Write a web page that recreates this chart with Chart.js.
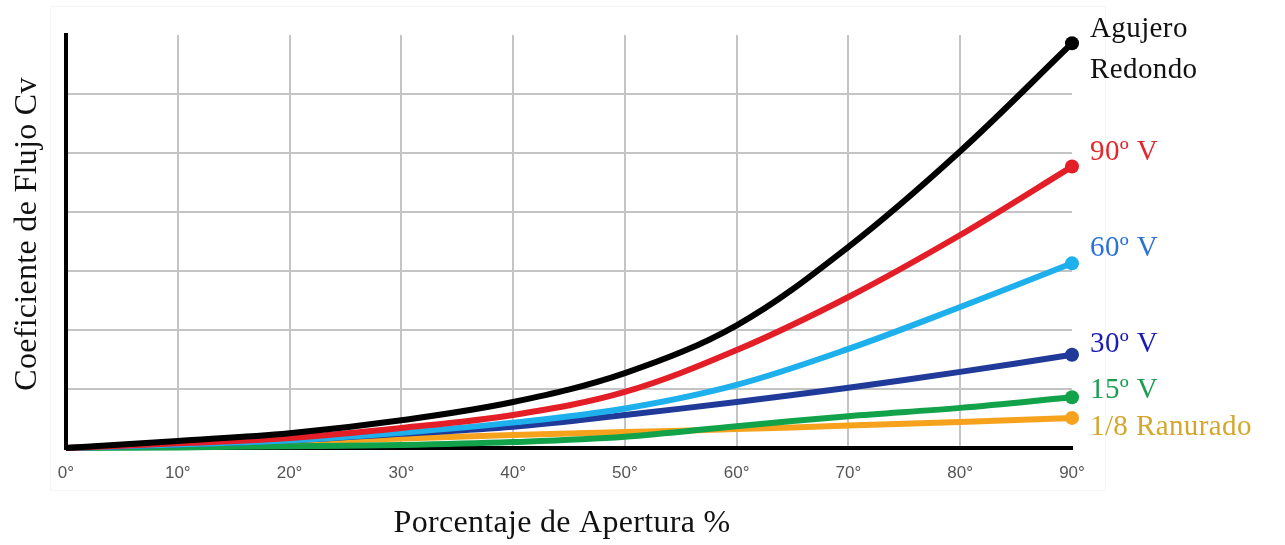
<!DOCTYPE html>
<html lang="es">
<head>
<meta charset="utf-8">
<title>Coeficiente de Flujo Cv</title>
<script src="https://cdn.jsdelivr.net/npm/chart.js@4/dist/chart.umd.min.js"></script>
<style>
  html, body { margin: 0; padding: 0; background: #fff; }
  #wrap { width: 1285px; height: 545px; position: relative; }
</style>
</head>
<body>
<div id="wrap"><canvas id="cv" width="1285" height="545"></canvas></div>
<script>
/* ------------ data ------------ */
const apertura   = [0, 10, 20, 30, 40, 50, 60, 70, 80, 90];
const xTicks     = [0, 10, 20, 30, 40, 50, 60, 70, 80, 90];

const agujero    = [0, 0.12, 0.25, 0.47, 0.78, 1.27, 2.08, 3.41, 5.03, 6.86];
const v90        = [0, 0.08, 0.17, 0.34, 0.56, 0.95, 1.66, 2.56, 3.61, 4.77];
const v60        = [0, 0.06, 0.13, 0.26, 0.43, 0.67, 1.07, 1.68, 2.39, 3.13];
const v30        = [0, 0.06, 0.13, 0.24, 0.36, 0.56, 0.78, 1.02, 1.29, 1.58];
const v15        = [0, 0.01, 0.03, 0.05, 0.10, 0.19, 0.37, 0.54, 0.68, 0.86];
const ranurado   = [0, 0.05, 0.10, 0.16, 0.22, 0.27, 0.32, 0.38, 0.44, 0.51];

const seriesNames = [['Agujero', 'Redondo'], ['90º V'], ['60º V'], ['30º V'], ['15º V'], ['1/8 Ranurado']];

/* ------------ styles ------------ */
const SERIF = '"Liberation Serif", "Times New Roman", serif';
const lineColors  = ['#000000', '#e31e26', '#1eb0ec', '#1f3a98', '#12a24a', '#f7a21c'];
const labelColors = ['#111111', '#e5262b', '#2a72d6', '#1a1ab5', '#1c9d4f', '#d4a62c'];
// baseline offset of each end label from its end dot
const labelDy     = [-6, -7, -7, -3, 1, 17];

const toXY = arr => arr.map((v, i) => ({ x: apertura[i], y: v }));
const allSeries = [agujero, v90, v60, v30, v15, ranurado];

const datasets = allSeries.map((vals, k) => ({
  label: seriesNames[k].join(' '),
  data: toXY(vals),
  borderColor: lineColors[k],
  backgroundColor: lineColors[k],
  borderWidth: 6,
  tension: 0.35,
  clip: false,
  pointRadius: c => (c.dataIndex === vals.length - 1 ? 7 : 0),
  pointHoverRadius: 0,
  pointBorderWidth: 0,
  pointBackgroundColor: lineColors[k],
  fill: false,
}));

/* ------------ plugins: frame, titles, end labels ------------ */
const decor = {
  id: 'decor',
  beforeDraw(chart) {
    const { ctx } = chart;
    ctx.save();
    ctx.strokeStyle = '#f6f6f6';
    ctx.lineWidth = 1;
    ctx.strokeRect(50.5, 6.5, 1055, 484);
    ctx.restore();
  },
  afterDatasetsDraw(chart) {
    const { ctx } = chart;
    ctx.save();
    ctx.textBaseline = 'alphabetic';
    ctx.textAlign = 'left';
    ctx.font = `29px ${SERIF}`;
    ctx.letterSpacing = '0.4px';
    chart.data.datasets.forEach((ds, k) => {
      const meta = chart.getDatasetMeta(k);
      const pt = meta.data[meta.data.length - 1];
      ctx.fillStyle = labelColors[k];
      seriesNames[k].forEach((line, j) => {
        ctx.fillText(line, pt.x + 18, pt.y + labelDy[k] + j * 41);
      });
    });

    // axis titles
    ctx.fillStyle = '#111';
    ctx.font = `32px ${SERIF}`;
    ctx.letterSpacing = '0.3px';
    ctx.textAlign = 'center';
    ctx.textBaseline = 'middle';
    ctx.fillText('Porcentaje de Apertura %', 562, 524);
    ctx.translate(28, 234);
    ctx.rotate(-Math.PI / 2);
    ctx.fillText('Coeficiente de Flujo Cv', 0, 0);
    ctx.restore();
  }
};

/* ------------ chart ------------ */
new Chart(document.getElementById('cv'), {
  type: 'line',
  data: { datasets },
  options: {
    responsive: false,
    animation: false,
    events: [],
    layout: { padding: { left: 66, right: 213, top: 35, bottom: 0 } },
    plugins: { legend: { display: false }, tooltip: { enabled: false } },
    scales: {
      x: {
        type: 'linear',
        min: 0,
        max: 90,
        afterBuildTicks: s => { s.ticks = xTicks.map(v => ({ value: v })); },
        afterFit: s => { s.height = 97; },
        border: { color: '#000', width: 4 },
        grid: {
          drawTicks: false,
          lineWidth: 2,
          color: c => (c.tick && (c.tick.value === 0 || c.tick.value === 90) ? 'rgba(0,0,0,0)' : '#c4c4c4'),
        },
        ticks: {
          padding: 15,
          color: '#555',
          font: { family: '"Liberation Sans", Arial, sans-serif', size: 17 },
          callback: v => v + '°',
        },
      },
      y: {
        min: 0,
        max: 7,
        afterFit: s => { s.width = 0; },
        border: { color: '#000', width: 4 },
        grid: {
          drawTicks: false,
          lineWidth: 2,
          color: c => (c.tick && (c.tick.value === 0 || c.tick.value === 7) ? 'rgba(0,0,0,0)' : '#c4c4c4'),
        },
        ticks: { display: false, stepSize: 1 },
      },
    },
  },
  plugins: [decor],
});
</script>
</body>
</html>
